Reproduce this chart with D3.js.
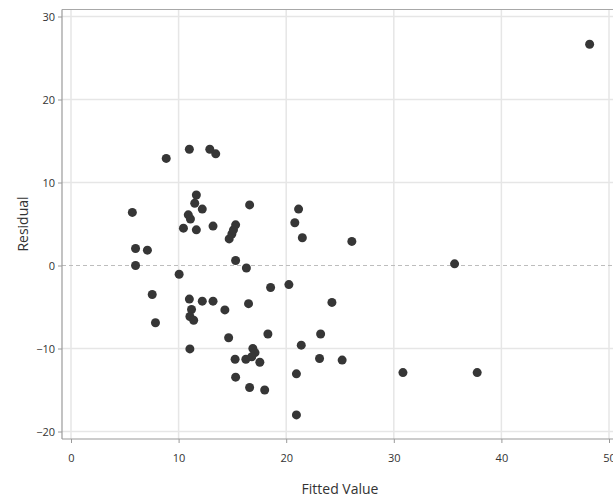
<!DOCTYPE html>
<html>
<head>
<meta charset="utf-8">
<script src="https://cdn.jsdelivr.net/npm/d3@7"></script>
<style>
  html, body { margin: 0; padding: 0; background: #ffffff; }
  svg { display: block; }
  text { font-family: "Open Sans", "Noto Sans", sans-serif; fill: #333; }
</style>
</head>
<body>
<svg id="chart" width="613" height="499"></svg>
<script>
// Data (Fitted Value, Residual)
const fittedValues = [5.7, 6.0, 7.1, 6.0, 7.55, 7.85, 8.85, 11.0, 12.9, 13.45,
  11.65, 11.5, 12.2, 16.6, 10.9, 11.1, 10.45, 11.65, 13.2, 14.7,
  14.95, 15.1, 15.3, 15.3, 16.3, 10.05, 21.15, 20.8, 21.5, 26.1,
  18.55, 20.25, 16.5, 24.25, 14.65, 18.3, 23.2, 21.4, 15.25, 16.25,
  16.9, 17.1, 16.8, 17.55, 15.3, 16.6, 18.0, 20.95, 20.95, 23.1,
  25.2, 11.0, 12.2, 13.2, 11.2, 11.05, 11.4, 14.3, 11.05, 48.2,
  35.65, 30.85, 37.75];
const residuals = [6.4, 2.05, 1.85, 0.0, -3.5, -6.9, 12.9, 14.0, 14.0, 13.45,
  8.5, 7.5, 6.8, 7.3, 6.1, 5.6, 4.5, 4.3, 4.75, 3.2,
  3.8, 4.3, 4.9, 0.6, -0.3, -1.05, 6.8, 5.15, 3.35, 2.9,
  -2.65, -2.3, -4.6, -4.45, -8.7, -8.25, -8.25, -9.6, -11.3, -11.3,
  -10.0, -10.5, -11.0, -11.65, -13.45, -14.7, -15.0, -13.05, -18.0, -11.2,
  -11.4, -4.05, -4.3, -4.3, -5.3, -6.15, -6.6, -5.35, -10.05, 26.65,
  0.2, -12.9, -12.9];
const xTicks = [0, 10, 20, 30, 40, 50];
const yTicks = [-20, -10, 0, 10, 20, 30];
const xTitle = "Fitted Value";
const yTitle = "Residual";

const svg = d3.select("#chart");

// Scales: 0 -> 71px, 50 -> 609px ; 0 -> 265.5px, 30 -> 16.5px
const x = d3.scaleLinear().domain([0, 50]).range([71, 609]);
const y = d3.scaleLinear().domain([0, 30]).range([265.5, 16.5]);

const panelLeft = 62, panelTop = 9.5, panelBottom = 439, panelRight = 640;

// Panel background
svg.append("rect")
  .attr("x", panelLeft).attr("y", panelTop)
  .attr("width", panelRight - panelLeft).attr("height", panelBottom - panelTop)
  .attr("fill", "#ffffff");

// Gridlines
svg.append("g").selectAll("line").data(xTicks).join("line")
  .attr("x1", d => x(d)).attr("x2", d => x(d))
  .attr("y1", panelTop).attr("y2", panelBottom)
  .attr("stroke", "#e6e6e6").attr("stroke-width", 1.5);
svg.append("g").selectAll("line").data(yTicks.filter(d => d !== 0)).join("line")
  .attr("x1", panelLeft).attr("x2", panelRight)
  .attr("y1", d => y(d)).attr("y2", d => y(d))
  .attr("stroke", "#e6e6e6").attr("stroke-width", 1.5);

// Zero reference line (dashed)
svg.append("line")
  .attr("x1", panelLeft).attr("x2", panelRight)
  .attr("y1", y(0)).attr("y2", y(0))
  .attr("stroke", "#bdbdbd").attr("stroke-width", 1)
  .attr("stroke-dasharray", "4,3");

// Frame
svg.append("line").attr("x1", panelLeft).attr("x2", panelRight)
  .attr("y1", panelTop).attr("y2", panelTop).attr("stroke", "#a8a8a8").attr("stroke-width", 1.2);

// Axes
const xAxis = d3.axisBottom(x).tickValues(xTicks).tickSize(4).tickPadding(11).tickFormat(d3.format("d"));
const yAxis = d3.axisLeft(y).tickValues(yTicks).tickSize(4).tickPadding(3).tickFormat(d3.format("d"));

const gx = svg.append("g").attr("transform", `translate(0,${panelBottom})`).call(xAxis);
gx.select(".domain").remove();
gx.append("line").attr("x1", panelLeft).attr("x2", panelRight).attr("y1", 0).attr("y2", 0)
  .attr("stroke", "#9a9a9a").attr("stroke-width", 1.2);
gx.selectAll(".tick line").attr("stroke", "#9a9a9a");
gx.selectAll(".tick text").attr("font-size", 11).attr("fill", "#333")
  .style("font-family", "'Open Sans', 'Noto Sans', sans-serif");

const gy = svg.append("g").attr("transform", `translate(${panelLeft},0)`).call(yAxis);
gy.select(".domain").remove();
gy.append("line").attr("x1", 0).attr("x2", 0).attr("y1", panelTop).attr("y2", panelBottom)
  .attr("stroke", "#9a9a9a").attr("stroke-width", 1.2);
gy.selectAll(".tick line").attr("stroke", "#9a9a9a");
gy.selectAll(".tick text").attr("font-size", 11).attr("fill", "#333")
  .style("font-family", "'Open Sans', 'Noto Sans', sans-serif");

// Points
const pts = fittedValues.map((v, i) => [v, residuals[i]]);
svg.append("g").selectAll("circle").data(pts).join("circle")
  .attr("cx", d => x(d[0])).attr("cy", d => y(d[1]))
  .attr("r", 4.5).attr("fill", "#363636");

// Axis titles
svg.append("text").attr("x", 340).attr("y", 494)
  .attr("text-anchor", "middle").attr("font-size", 14).attr("fill", "#444").text(xTitle);
svg.append("text").attr("transform", "translate(28,224) rotate(-90)")
  .attr("text-anchor", "middle").attr("font-size", 14).attr("fill", "#444").text(yTitle);
</script>
</body>
</html>
